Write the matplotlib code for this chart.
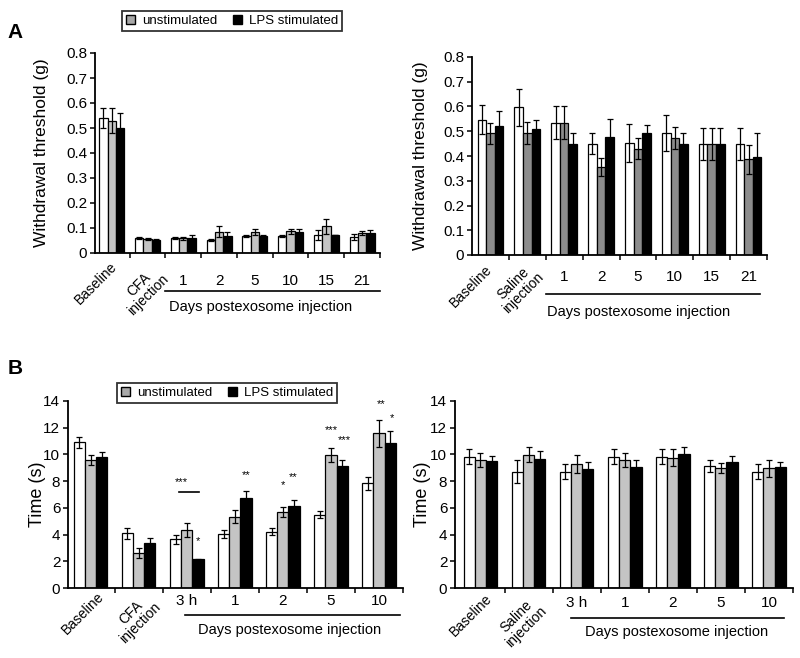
import matplotlib
matplotlib.use("Agg")
import matplotlib.pyplot as plt
import numpy as np
from matplotlib.patches import Patch

plt.rcParams['font.family'] = ['Liberation Sans', 'DejaVu Sans']

# --- data -------------------------------------------------------------
days_a = ['1', '2', '5', '10', '15', '21']
days_b = ['3 h', '1', '2', '5', '10']

# A, CFA (left)
a_cfa_white = [0.538, 0.060, 0.058, 0.050, 0.066, 0.066, 0.073, 0.064]
a_cfa_white_err = [0.040, 0.004, 0.004, 0.004, 0.004, 0.004, 0.020, 0.013]
a_cfa_gray = [0.529, 0.056, 0.058, 0.084, 0.084, 0.086, 0.106, 0.080]
a_cfa_gray_err = [0.049, 0.004, 0.005, 0.022, 0.012, 0.011, 0.030, 0.009]
a_cfa_black = [0.498, 0.053, 0.060, 0.066, 0.066, 0.084, 0.070, 0.080]
a_cfa_black_err = [0.060, 0.004, 0.010, 0.017, 0.004, 0.012, 0.000, 0.013]

# A, saline (right)
a_sal_white = [0.547, 0.596, 0.535, 0.450, 0.454, 0.493, 0.448, 0.448]
a_sal_white_err = [0.060, 0.073, 0.066, 0.043, 0.077, 0.071, 0.066, 0.066]
a_sal_gray = [0.491, 0.493, 0.535, 0.354, 0.430, 0.473, 0.448, 0.386]
a_sal_gray_err = [0.043, 0.045, 0.066, 0.036, 0.043, 0.044, 0.066, 0.060]
a_sal_black = [0.520, 0.511, 0.450, 0.477, 0.491, 0.450, 0.448, 0.397]
a_sal_black_err = [0.060, 0.034, 0.043, 0.074, 0.034, 0.043, 0.066, 0.097]

# B, CFA (left)
b_cfa_white = [10.90, 4.09, 3.64, 4.04, 4.21, 5.50, 7.83]
b_cfa_white_err = [0.42, 0.42, 0.33, 0.30, 0.25, 0.25, 0.50]
b_cfa_gray = [9.58, 2.60, 4.34, 5.34, 5.71, 9.95, 11.58]
b_cfa_gray_err = [0.40, 0.37, 0.50, 0.50, 0.38, 0.50, 1.00]
b_cfa_black = [9.78, 3.35, 2.15, 6.71, 6.14, 9.13, 10.88]
b_cfa_black_err = [0.42, 0.37, 0.05, 0.55, 0.45, 0.45, 0.87]

# B, saline (right)
b_sal_white = [9.83, 8.72, 8.72, 9.83, 9.83, 9.13, 8.72]
b_sal_white_err = [0.57, 0.86, 0.56, 0.57, 0.57, 0.45, 0.56]
b_sal_gray = [9.58, 9.97, 9.28, 9.58, 9.76, 8.96, 8.96]
b_sal_gray_err = [0.50, 0.55, 0.64, 0.50, 0.62, 0.37, 0.62]
b_sal_black = [9.53, 9.63, 8.90, 9.08, 10.05, 9.46, 9.03]
b_sal_black_err = [0.35, 0.62, 0.52, 0.50, 0.47, 0.42, 0.43]

# significance marks on B-left: (group, offset, y, text)
b_stars = [(2, -0.12, 7.9, '***'), (2, 0.24, 3.55, '*'),
           (3, 0.24, 8.45, '**'),
           (4, 0.0, 7.7, '*'), (4, 0.22, 8.3, '**'),
           (5, 0.0, 11.8, '***'), (5, 0.28, 11.1, '***'),
           (6, 0.05, 13.75, '**'), (6, 0.27, 12.7, '*')]

LIGHT = '#c4c4c4'
DARK = '#8c8c8c'
W = 2 / 3 * 0.35


def px_axes(fig, l, r, t, b):
    fw, fh = 800, 658
    return fig.add_axes([l / fw, 1 - b / fh, (r - l) / fw, (b - t) / fh])


def panel(ax, white, werr, gray, gerr, black, berr, gcol, first, days,
          xlim, ylim, yticks, ylabel, ylab_x, rot_pos, day_y, line_y,
          line_x, txt_x, txt_y, tsize, lsize):
    x = np.arange(len(white))
    for off, v, e, c in [(-W, white, werr, 'white'), (0, gray, gerr, gcol),
                         (W, black, berr, 'black')]:
        ax.bar(x + off, v, W, color=c, edgecolor='black', linewidth=0.9,
               zorder=2)
        ax.errorbar(x + off, v, yerr=e, fmt='none', ecolor='black',
                    elinewidth=0.9, capsize=2.3, capthick=0.9, zorder=3)
    ax.set_xlim(*xlim)
    ax.set_ylim(*ylim)
    ax.set_yticks(yticks)
    ax.set_xticks(np.arange(len(white)) + 0.5)
    ax.set_xticklabels([])
    for s in ['top', 'right']:
        ax.spines[s].set_visible(False)
    for s in ['left', 'bottom']:
        ax.spines[s].set_linewidth(1.3)
    ax.tick_params(direction='out', length=3.5, width=1.1, labelsize=tsize,
                   pad=2)
    ax.set_ylabel(ylabel, fontsize=lsize)
    ax.yaxis.set_label_coords(ylab_x, 0.5)
    tr = ax.get_xaxis_transform()
    (bx, by), (cx, cy) = rot_pos
    ax.text(bx, by, 'Baseline', rotation=45, ha='center', va='center',
            rotation_mode='anchor', transform=tr, fontsize=10)
    ax.text(cx, cy, first, rotation=45, ha='center', va='center',
            rotation_mode='anchor', transform=tr, fontsize=10,
            multialignment='center', linespacing=1.0)
    for i, d in enumerate(days):
        ax.text(i + 2, day_y, d, ha='center', va='center', transform=tr,
                fontsize=11)
    ax.plot(line_x, [line_y, line_y], color='black', lw=1.2,
            transform=tr, clip_on=False)
    ax.text(txt_x, txt_y, 'Days postexosome injection', ha='center',
            va='center', transform=tr, fontsize=10.5)


fig = plt.figure(figsize=(8, 6.58), dpi=100)

ax1 = px_axes(fig, 95, 380, 53, 253)
panel(ax1, a_cfa_white, a_cfa_white_err, a_cfa_gray, a_cfa_gray_err,
      a_cfa_black, a_cfa_black_err, LIGHT, 'CFA\ninjection', days_a,
      (-0.47, 7.5), (0, 0.8), np.arange(0, 0.81, 0.1),
      'Withdrawal threshold (g)', -0.162,
      ((-0.44, -0.15), (0.89, -0.185)), -0.14, -0.19, [1.5, 7.5], 4.17,
      -0.27, 11, 12.5)
ax1.set_yticklabels(['0'] + ['%.1f' % v for v in np.arange(0.1, 0.81, 0.1)])

ax2 = px_axes(fig, 472, 767, 57, 255)
panel(ax2, a_sal_white, a_sal_white_err, a_sal_gray, a_sal_gray_err,
      a_sal_black, a_sal_black_err, DARK, 'Saline\ninjection', days_a,
      (-0.5, 7.5), (0, 0.8), np.arange(0, 0.81, 0.1),
      'Withdrawal threshold (g)', -0.15,
      ((-0.54, -0.157), (0.76, -0.167)), -0.11, -0.197, [1.5, 7.3], 4.02,
      -0.29, 11, 12.5)
ax2.set_yticklabels(['0'] + ['%.1f' % v for v in np.arange(0.1, 0.81, 0.1)])

ax3 = px_axes(fig, 68, 403, 401, 588)
panel(ax3, b_cfa_white, b_cfa_white_err, b_cfa_gray, b_cfa_gray_err,
      b_cfa_black, b_cfa_black_err, LIGHT, 'CFA\ninjection', days_b,
      (-0.47, 6.5), (0, 14), np.arange(0, 15, 2), 'Time (s)', -0.065,
      ((-0.17, -0.134), (0.94, -0.16)), -0.07, -0.144, [1.96, 6.44], 4.15,
      -0.225, 11, 13)
for g, off, y, s in b_stars:
    ax3.text(g + off, y, s, ha='center', va='center', fontsize=8)
ax3.plot([2 - 0.17, 2 + 0.25], [7.2, 7.2], color='black', lw=1.2)

ax4 = px_axes(fig, 455, 793, 401, 588)
panel(ax4, b_sal_white, b_sal_white_err, b_sal_gray, b_sal_gray_err,
      b_sal_black, b_sal_black_err, LIGHT, 'Saline\ninjection', days_b,
      (-0.53, 6.45), (0, 14), np.arange(0, 15, 2), 'Time (s)', -0.07,
      ((-0.2, -0.144), (0.85, -0.18)), -0.078, -0.16, [1.88, 6.32], 4.08,
      -0.235, 11, 13)

handles = [Patch(facecolor='#a8a8a8', edgecolor='black', linewidth=1.0),
           Patch(facecolor='black', edgecolor='black')]
for cy in [1 - 21 / 658, 1 - 393 / 658]:
    cx = 232 / 800 if cy > 0.5 else 227 / 800
    leg = fig.legend(handles, ['unstimulated', 'LPS stimulated'], ncol=2,
                     loc='center', bbox_to_anchor=(cx, cy), fontsize=9.5,
                     frameon=True, fancybox=False, handlelength=0.7,
                     handleheight=0.7, handletextpad=0.5, columnspacing=1.2,
                     borderpad=0.3)
    leg.get_frame().set_edgecolor('black')
    leg.get_frame().set_linewidth(1.3)

fig.text(15 / 800, 1 - 32 / 658, 'A', fontsize=15, fontweight='bold',
         ha='center', va='center')
fig.text(15 / 800, 1 - 368 / 658, 'B', fontsize=15, fontweight='bold',
         ha='center', va='center')

fig.savefig('out.png', dpi=100)
